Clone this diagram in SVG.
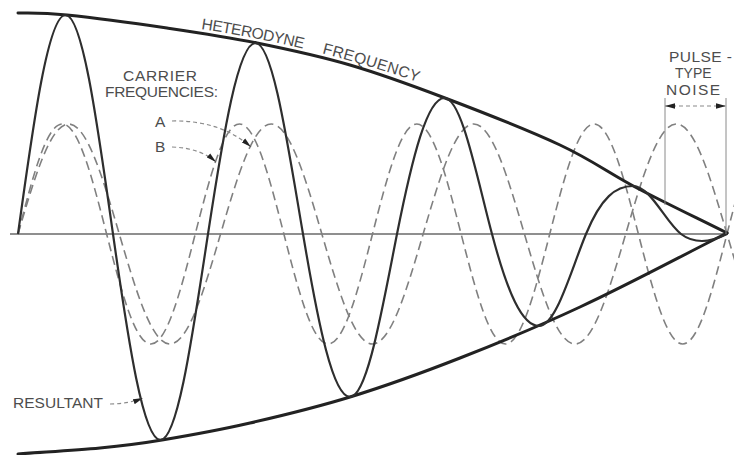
<svg xmlns="http://www.w3.org/2000/svg" width="734" height="455" viewBox="0 0 734 455">
<style>
.env{fill:none;stroke:#222;stroke-width:3;stroke-linecap:round}
.res{fill:none;stroke:#2e2e2e;stroke-width:2.2;stroke-linejoin:round}
.car{fill:none;stroke:#808080;stroke-width:1.6;stroke-dasharray:9 5}
.axis{fill:none;stroke:#6a6a6a;stroke-width:1.4}
.lead{fill:none;stroke:#8a8a8a;stroke-width:1.2;stroke-dasharray:4 3}
.thin{fill:none;stroke:#8a8a8a;stroke-width:1}
.lbl{font-family:"Liberation Sans",Arial,sans-serif;font-size:15.5px;fill:#4d4d4d}
</style>
<defs>
<marker id="ah" viewBox="0 0 10 6" refX="10" refY="3" markerWidth="10" markerHeight="6" markerUnits="userSpaceOnUse" orient="auto-start-reverse"><path d="M0,0.3 L10,3 L0,5.7 z" fill="#222"/></marker>
<path id="hfpath" d="M201,29 Q306.5,44.5 412,80 L430,86"/>
</defs>
<rect width="734" height="455" fill="#fff"/>
<g id="axis"><path class="axis" d="M10,234 H728"/></g>
<g id="carriers">
<path id="carrierA" class="car" d="M18,234 C32.45,177.65 46.28,124 62.31,124 C78.35,124 92.17,177.65 106.63,234 C121.08,290.35 134.91,344 150.94,344 C166.98,344 180.8,290.35 195.25,234 C209.7,177.65 223.53,124 239.56,124 C255.6,124 269.42,177.65 283.88,234 C298.33,290.35 312.16,344 328.19,344 C344.23,344 358.05,290.35 372.5,234 C386.95,177.65 400.78,124 416.81,124 C432.85,124 446.67,177.65 461.13,234 C475.58,290.35 489.41,344 505.44,344 C521.48,344 535.3,290.35 549.75,234 C564.2,177.65 578.03,124 594.06,124 C610.1,124 623.92,177.65 638.38,234 C652.83,290.35 666.66,344 682.69,344 C698.73,344 712.55,290.35 727,234 C741.45,177.65 755.28,124 771.31,124"/>
<path id="carrierB" class="car" d="M18,234 C34.51,177.65 50.31,124 68.64,124 C86.97,124 102.77,177.65 119.29,234 C135.8,290.35 151.6,344 169.93,344 C188.26,344 204.06,290.35 220.57,234 C237.08,177.65 252.88,124 271.21,124 C289.54,124 305.34,177.65 321.86,234 C338.37,290.35 354.17,344 372.5,344 C390.83,344 406.63,290.35 423.14,234 C439.65,177.65 455.45,124 473.78,124 C492.11,124 507.91,177.65 524.43,234 C540.94,290.35 556.74,344 575.07,344 C593.4,344 609.2,290.35 625.71,234 C642.22,177.65 658.02,124 676.35,124 C694.68,124 710.48,177.65 727,234 C743.51,290.35 759.31,344 777.64,344"/>
</g>
<g id="envelope">
<path class="env" d="M18,13 C34,13.3 42.2,12.8 67,15 C91.8,17.5 135.3,23.3 167,28 C198.7,32.7 226.5,36.8 257,43 C287.5,49.2 318.7,55.8 350,65 C381.3,74.2 410,84.7 445,98 C480,111.3 528,130 560,145 C592,160 609.2,173.3 637,188 C664.8,202.7 697,218 727,233"/>
<path class="env" d="M18,454 C45.3,452 76,450.3 100,448 C124,445.7 137,444.2 162,440 C187,435.8 218.7,430.2 250,423 C281.3,415.8 315,407.8 350,397 C385,386.2 421.7,373 460,358 C498.3,343 535.5,327.8 580,307 C629,284.3 678,257.7 727,233"/>
</g>
<g id="resultant">
<path class="res" d="M18,234 C33.49,121.3 48.31,15 65.5,15 C82.69,15 97.51,124.9 113,234 C128.49,343.1 143.31,440 160.5,440 C177.69,440 192.51,335.4 208,234 C223.49,132.6 238.31,43 255.5,43 C272.69,43 287.51,143.1 303,234 C318.33,324.9 332.99,397 350,397 C367.01,397 381.67,311.6 397,234 C412.49,156.4 427.31,98 444.5,98 C461.69,98 476.51,175.9 492,234 C507.33,292.1 521.99,326 539,326 C556.01,326 570.67,271.1 586,234 C601.33,196.9 615.99,186 633,186 C650.37,186 665.35,222 681,234 C688,239.4 694,241 702,241 C710,241 719,238 727,234"/>
</g>
<g id="label-heterodyne">
<text class="lbl"><textPath href="#hfpath" startOffset="0" textLength="104" lengthAdjust="spacing">HETERODYNE</textPath></text>
<text class="lbl"><textPath href="#hfpath" startOffset="123.5" textLength="100" lengthAdjust="spacing">FREQUENCY</textPath></text>
</g>
<g id="label-carrier">
<text class="lbl" x="123" y="81" textLength="74" lengthAdjust="spacing">CARRIER</text>
<text class="lbl" x="105" y="97" textLength="113" lengthAdjust="spacing">FREQUENCIES:</text>
</g>
<g id="label-A">
<text class="lbl" x="155" y="127">A</text>
<path class="lead" d="M172,121 Q220,120 251,147" marker-end="url(#ah)"/>
</g>
<g id="label-B">
<text class="lbl" x="155" y="152">B</text>
<path class="lead" d="M172,147 Q200,148 216,162" marker-end="url(#ah)"/>
</g>
<g id="label-resultant">
<text class="lbl" x="13" y="408" textLength="90" lengthAdjust="spacing">RESULTANT</text>
<path class="lead" d="M110,404 Q128,404 143,398" marker-end="url(#ah)"/>
</g>
<g id="label-pulse">
<text class="lbl" x="669" y="62" textLength="63" lengthAdjust="spacing">PULSE -</text>
<text class="lbl" x="675" y="78" style="font-size:14px">TYPE</text>
<text class="lbl" x="666" y="95" textLength="54" lengthAdjust="spacing">NOISE</text>
<path class="thin" d="M665,98 V205 M726,98 V234"/>
<path class="lead" d="M665,106 H726" marker-start="url(#ah)" marker-end="url(#ah)"/>
</g>
</svg>
